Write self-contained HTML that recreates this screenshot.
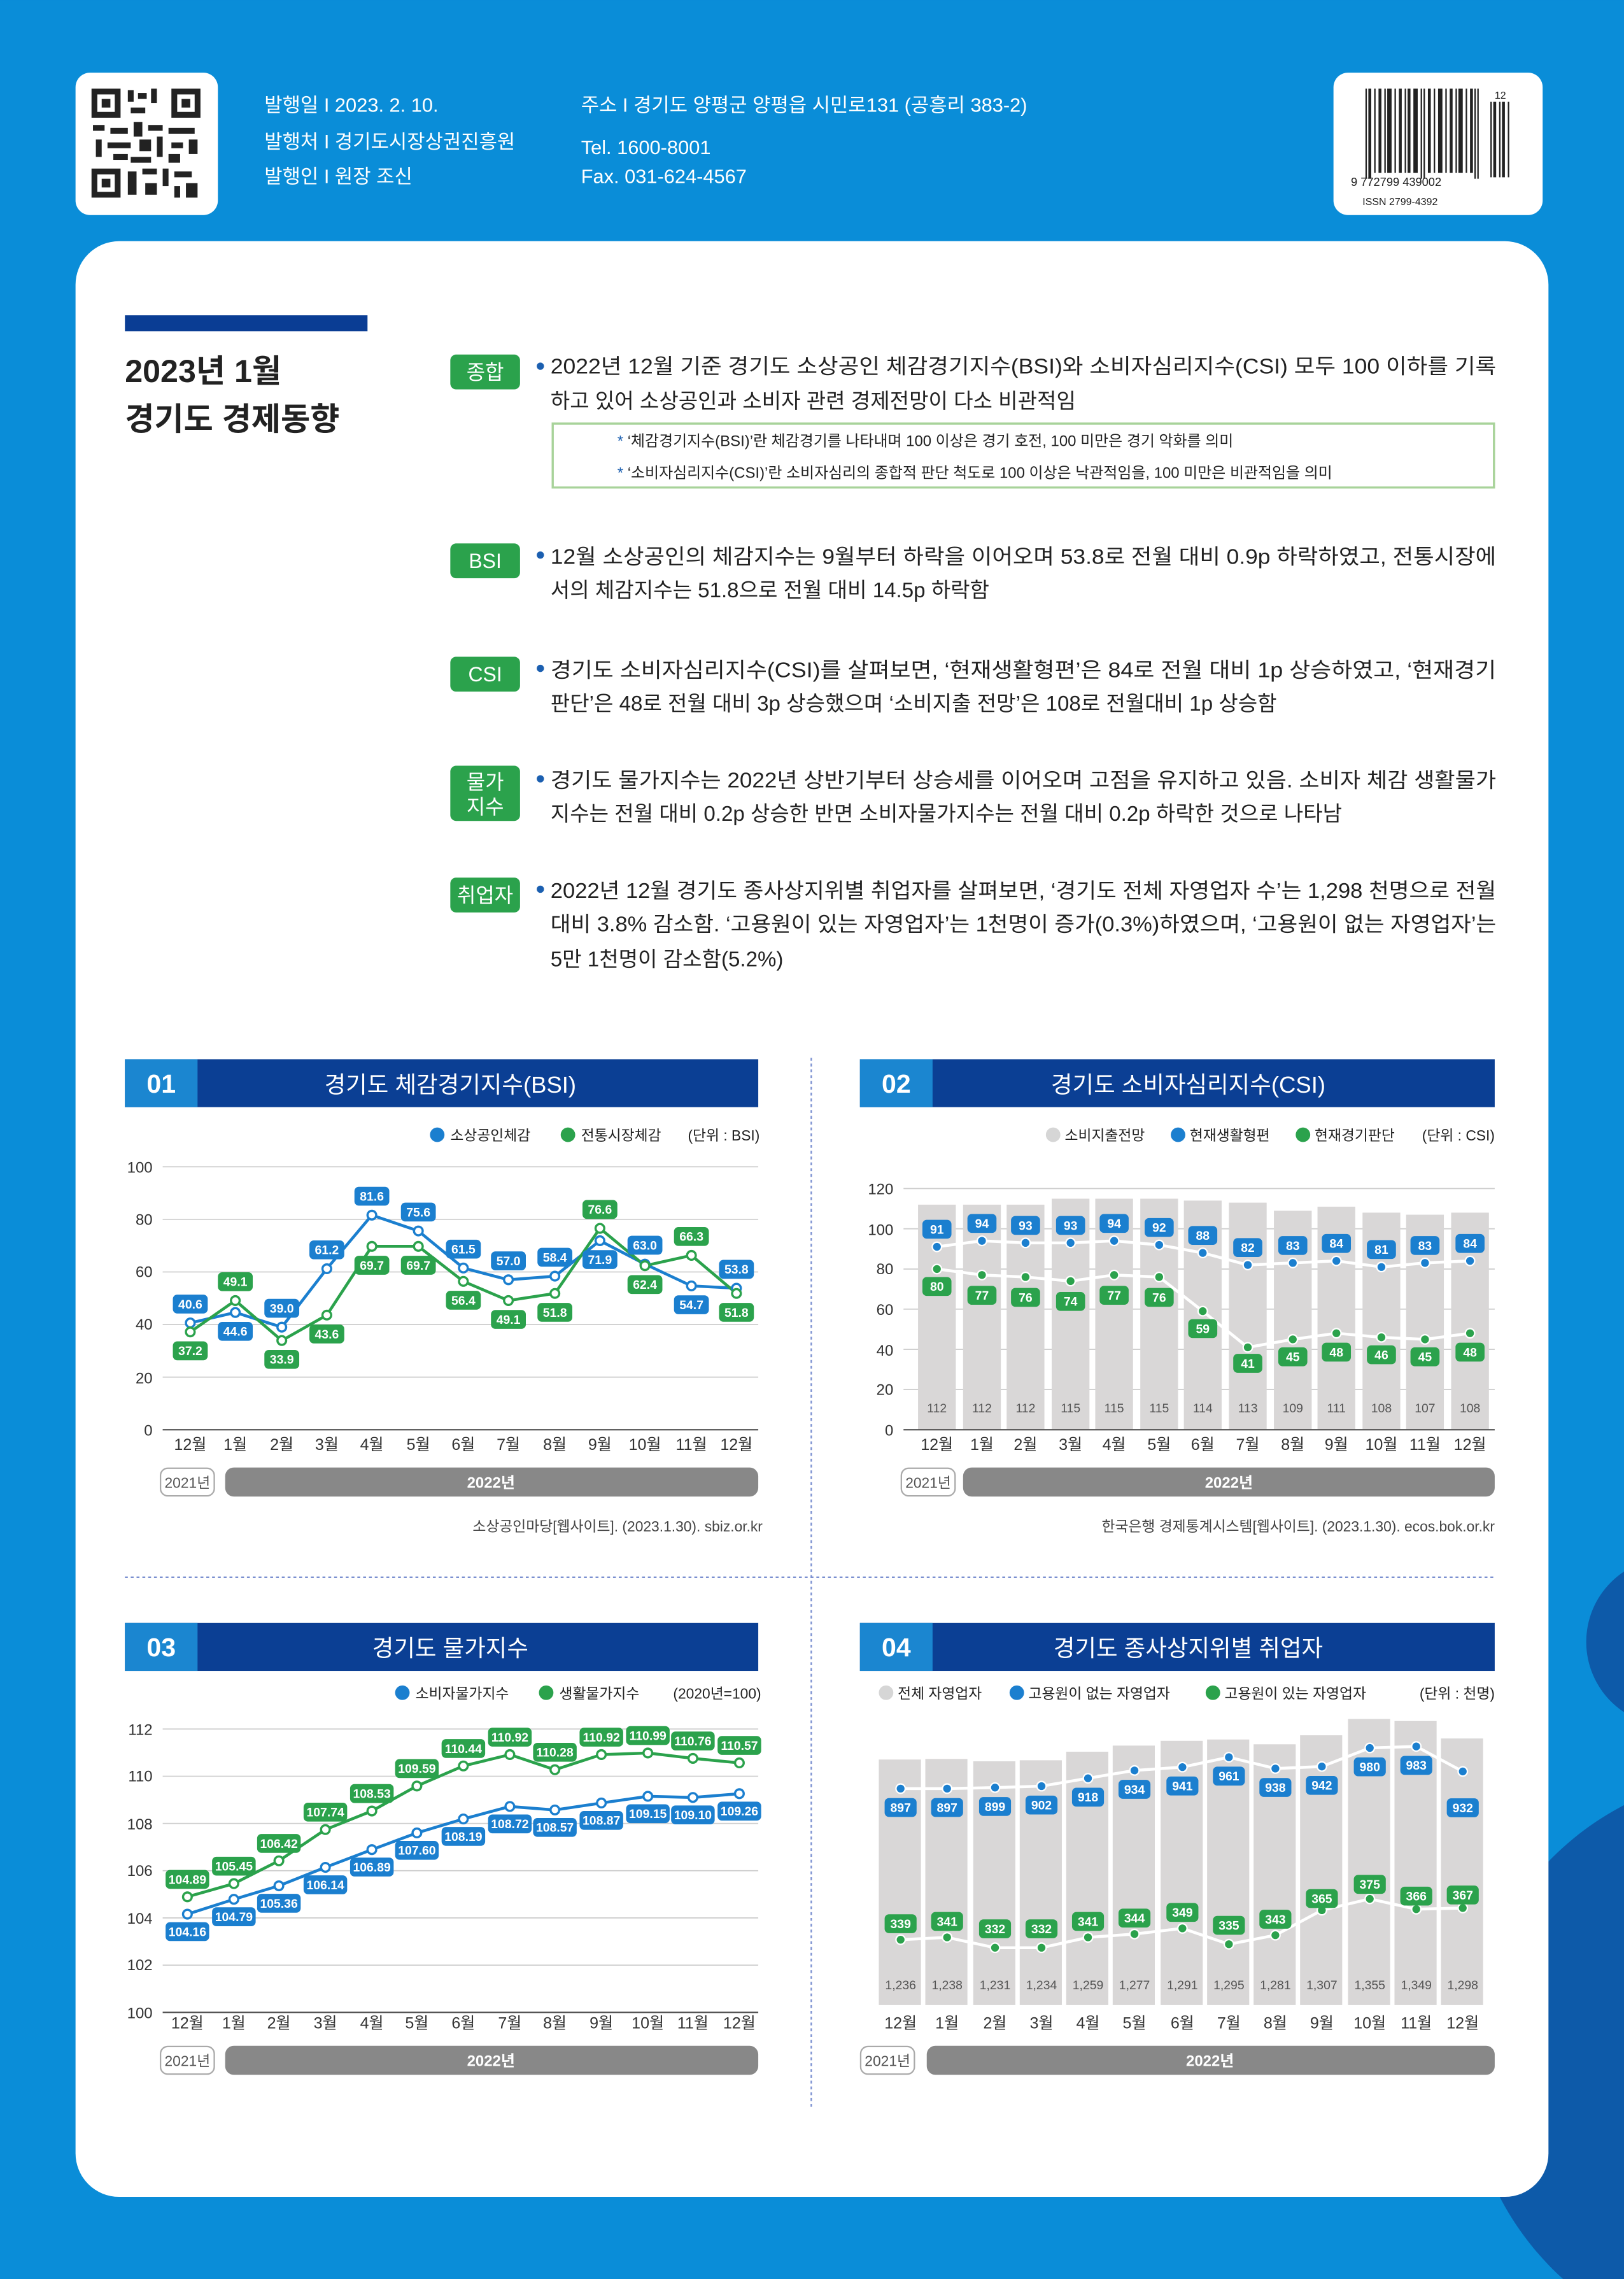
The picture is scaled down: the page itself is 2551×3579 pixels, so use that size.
<!DOCTYPE html>
<html><head><meta charset="utf-8">
<style>
html,body{margin:0;padding:0;background:#0a8dd8;}
svg{display:block;}
text{font-family:"Liberation Sans","Noto Sans CJK KR",sans-serif;}
.w{fill:#fff}
.k{fill:#222}
.lb rect{fill:#1b7fcf}
.lg rect{fill:#2ba24c}
.lb text,.lg text{fill:#fff;font-size:8.5px;font-weight:bold;text-anchor:middle}
.ax{font-size:10.5px;fill:#333;text-anchor:end}
.mo{font-size:11px;fill:#333;text-anchor:middle}
.leg{font-size:10px;fill:#222}
.grid{stroke:#cfcfcf;stroke-width:0.8}
.bl{font-size:8.5px;fill:#555;text-anchor:middle}
</style></head>
<body>
<svg width="2551" height="3579" viewBox="0 0 1118 1568.5" xmlns="http://www.w3.org/2000/svg">
<rect x="0" y="0" width="1118" height="1569" fill="#0a8dd8"/>
<circle cx="1150" cy="1130" r="58" fill="#0d5aa9"/>
<circle cx="1210" cy="1420" r="200" fill="#0d5aa9"/>
<!-- QR -->
<rect x="52" y="50" width="98" height="98" rx="10" fill="#fff"/>
<g fill="#222">
<rect x="63" y="61" width="20" height="20"/><rect x="67" y="65" width="12" height="12" fill="#fff"/><rect x="70" y="68" width="6" height="6"/>
<rect x="118" y="61" width="20" height="20"/><rect x="122" y="65" width="12" height="12" fill="#fff"/><rect x="125" y="68" width="6" height="6"/>
<rect x="63" y="116" width="20" height="20"/><rect x="67" y="120" width="12" height="12" fill="#fff"/><rect x="70" y="123" width="6" height="6"/>
<rect x="88" y="62" width="4" height="8"/><rect x="95" y="64" width="6" height="4"/><rect x="104" y="61" width="4" height="10"/><rect x="90" y="74" width="10" height="4"/>
<rect x="64" y="86" width="8" height="4"/><rect x="76" y="88" width="12" height="4"/><rect x="92" y="84" width="6" height="10"/><rect x="102" y="86" width="10" height="4"/><rect x="116" y="88" width="18" height="4"/>
<rect x="66" y="96" width="4" height="12"/><rect x="74" y="98" width="16" height="4"/><rect x="96" y="96" width="8" height="8"/><rect x="108" y="94" width="4" height="14"/><rect x="118" y="98" width="8" height="4"/><rect x="130" y="96" width="6" height="10"/>
<rect x="78" y="106" width="10" height="4"/><rect x="90" y="108" width="14" height="4"/><rect x="116" y="106" width="8" height="6"/>
<rect x="88" y="118" width="6" height="16"/><rect x="98" y="116" width="10" height="4"/><rect x="112" y="116" width="4" height="12"/><rect x="120" y="118" width="12" height="4"/><rect x="100" y="126" width="8" height="8"/><rect x="120" y="128" width="4" height="8"/><rect x="128" y="126" width="8" height="10"/>
</g>
<!-- header text -->
<g class="w" font-size="13.5">
<text x="182" y="77">발행일 I 2023. 2. 10.</text>
<text x="182" y="102">발행처 I 경기도시장상권진흥원</text>
<text x="182" y="126">발행인 I 원장 조신</text>
<text x="400" y="77">주소 I 경기도 양평군 양평읍 시민로131 (공흥리 383-2)</text>
<text x="400" y="106">Tel. 1600-8001</text>
<text x="400" y="126">Fax. 031-624-4567</text>
</g>
<!-- barcode -->
<rect x="918" y="50" width="144" height="98" rx="10" fill="#fff"/>
<g fill="#222">
<rect x="940" y="61" width="1" height="62"/><rect x="942" y="61" width="2" height="62"/><rect x="946" y="61" width="1" height="58"/><rect x="949" y="61" width="2" height="58"/><rect x="953" y="61" width="1" height="58"/><rect x="955" y="61" width="3" height="58"/><rect x="960" y="61" width="1" height="58"/><rect x="963" y="61" width="2" height="58"/><rect x="967" y="61" width="1" height="58"/><rect x="969" y="61" width="2" height="58"/><rect x="973" y="61" width="3" height="58"/><rect x="978" y="61" width="1" height="62"/><rect x="980" y="61" width="1" height="62"/><rect x="983" y="61" width="2" height="58"/><rect x="987" y="61" width="1" height="58"/><rect x="990" y="61" width="3" height="58"/><rect x="995" y="61" width="1" height="58"/><rect x="998" y="61" width="2" height="58"/><rect x="1002" y="61" width="1" height="58"/><rect x="1004" y="61" width="3" height="58"/><rect x="1009" y="61" width="1" height="58"/><rect x="1012" y="61" width="2" height="58"/><rect x="1015" y="61" width="1" height="62"/><rect x="1017" y="61" width="1" height="62"/>
<rect x="1026" y="70" width="1" height="52"/><rect x="1028" y="70" width="2" height="52"/><rect x="1032" y="70" width="1" height="52"/><rect x="1034" y="70" width="2" height="52"/><rect x="1038" y="70" width="1" height="52"/>
</g>
<text x="930" y="128" font-size="8" fill="#222">9 772799 439002</text>
<text x="1029" y="68" font-size="7" fill="#222">12</text>
<text x="938" y="141" font-size="7" fill="#222">ISSN 2799-4392</text>
<!-- main card -->
<rect x="52" y="166" width="1014" height="1346" rx="30" fill="#fff"/>
<rect x="86" y="217" width="167" height="11" fill="#0a3d94"/>
<text x="86" y="263" font-size="22" font-weight="bold" fill="#222">2023년 1월</text>
<text x="86" y="296" font-size="22" font-weight="bold" fill="#222">경기도 경제동향</text>
<!-- sections -->
<g font-size="14.5" fill="#222">
<rect x="310" y="244" width="48" height="24" rx="4" fill="#2ba24c"/><text x="334" y="261" text-anchor="middle" fill="#fff" font-size="14">종합</text>
<circle cx="372" cy="252" r="2.5" fill="#1b5fb0"/>
<text x="379" y="257" textLength="651" lengthAdjust="spacingAndGlyphs">2022년 12월 기준 경기도 소상공인 체감경기지수(BSI)와 소비자심리지수(CSI) 모두 100 이하를 기록</text>
<text x="379" y="281">하고 있어 소상공인과 소비자 관련 경제전망이 다소 비관적임</text>
<rect x="380.5" y="291.5" width="648" height="44" fill="none" stroke="#a8d39a" stroke-width="1.5"/>
<text x="425" y="307" font-size="10.5"><tspan fill="#1b5fb0">*</tspan> ‘체감경기지수(BSI)’란 체감경기를 나타내며 100 이상은 경기 호전, 100 미만은 경기 악화를 의미</text>
<text x="425" y="329" font-size="10.5"><tspan fill="#1b5fb0">*</tspan> ‘소비자심리지수(CSI)’란 소비자심리의 종합적 판단 척도로 100 이상은 낙관적임을, 100 미만은 비관적임을 의미</text>

<rect x="310" y="374" width="48" height="24" rx="4" fill="#2ba24c"/><text x="334" y="391" text-anchor="middle" fill="#fff" font-size="14">BSI</text>
<circle cx="372" cy="382" r="2.5" fill="#1b5fb0"/>
<text x="379" y="388" textLength="651" lengthAdjust="spacingAndGlyphs">12월 소상공인의 체감지수는 9월부터 하락을 이어오며 53.8로 전월 대비 0.9p 하락하였고, 전통시장에</text>
<text x="379" y="411">서의 체감지수는 51.8으로 전월 대비 14.5p 하락함</text>

<rect x="310" y="452" width="48" height="24" rx="4" fill="#2ba24c"/><text x="334" y="469" text-anchor="middle" fill="#fff" font-size="14">CSI</text>
<circle cx="372" cy="460" r="2.5" fill="#1b5fb0"/>
<text x="379" y="466" textLength="651" lengthAdjust="spacingAndGlyphs">경기도 소비자심리지수(CSI)를 살펴보면, ‘현재생활형편’은 84로 전월 대비 1p 상승하였고, ‘현재경기</text>
<text x="379" y="489">판단’은 48로 전월 대비 3p 상승했으며 ‘소비지출 전망’은 108로 전월대비 1p 상승함</text>

<rect x="310" y="527" width="48" height="38" rx="4" fill="#2ba24c"/><text x="334" y="543" text-anchor="middle" fill="#fff" font-size="14">물가</text><text x="334" y="560" text-anchor="middle" fill="#fff" font-size="14">지수</text>
<circle cx="372" cy="536" r="2.5" fill="#1b5fb0"/>
<text x="379" y="542" textLength="651" lengthAdjust="spacingAndGlyphs">경기도 물가지수는 2022년 상반기부터 상승세를 이어오며 고점을 유지하고 있음. 소비자 체감 생활물가</text>
<text x="379" y="565">지수는 전월 대비 0.2p 상승한 반면 소비자물가지수는 전월 대비 0.2p 하락한 것으로 나타남</text>

<rect x="310" y="604" width="48" height="24" rx="4" fill="#2ba24c"/><text x="334" y="621" text-anchor="middle" fill="#fff" font-size="14">취업자</text>
<circle cx="372" cy="612" r="2.5" fill="#1b5fb0"/>
<text x="379" y="618" textLength="651" lengthAdjust="spacingAndGlyphs">2022년 12월 경기도 종사상지위별 취업자를 살펴보면, ‘경기도 전체 자영업자 수’는 1,298 천명으로 전월</text>
<text x="379" y="641" textLength="651" lengthAdjust="spacingAndGlyphs">대비 3.8% 감소함. ‘고용원이 있는 자영업자’는 1천명이 증가(0.3%)하였으며, ‘고용원이 없는 자영업자’는</text>
<text x="379" y="665">5만 1천명이 감소함(5.2%)</text>
</g>
<!-- dividers -->
<line x1="558.5" y1="728" x2="558.5" y2="1450" stroke="#7a8fd0" stroke-width="1" stroke-dasharray="2,2"/>
<line x1="86" y1="1085.5" x2="1030" y2="1085.5" stroke="#7a8fd0" stroke-width="1" stroke-dasharray="2,2"/>

<!-- ===== CHART 1 ===== -->
<rect x="86" y="729" width="436" height="33" fill="#0b3f94"/><rect x="86" y="729" width="50" height="33" fill="#1b86d0"/>
<text x="111" y="752" font-size="18" font-weight="bold" fill="#fff" text-anchor="middle">01</text>
<text x="310" y="752" font-size="16" fill="#fff" text-anchor="middle">경기도 체감경기지수(BSI)</text>
<circle cx="301" cy="781" r="5" fill="#1b7fcf"/><text x="310" y="785" class="leg">소상공인체감</text>
<circle cx="391" cy="781" r="5" fill="#2ba24c"/><text x="400" y="785" class="leg">전통시장체감</text>
<text x="523" y="785" class="leg" text-anchor="end" font-size="9.5">(단위 : BSI)</text>
<g class="grid"><line x1="112" y1="803" x2="522" y2="803"/><line x1="112" y1="839.2" x2="522" y2="839.2"/><line x1="112" y1="875.4" x2="522" y2="875.4"/><line x1="112" y1="911.6" x2="522" y2="911.6"/><line x1="112" y1="947.8" x2="522" y2="947.8"/></g>
<line x1="112" y1="984" x2="522" y2="984" stroke="#555" stroke-width="1"/>
<g class="ax"><text x="105" y="807">100</text><text x="105" y="843">80</text><text x="105" y="879">60</text><text x="105" y="915">40</text><text x="105" y="952">20</text><text x="105" y="988">0</text></g>
<g class="mo"><text x="131" y="998">12월</text><text x="162" y="998">1월</text><text x="194" y="998">2월</text><text x="225" y="998">3월</text><text x="256" y="998">4월</text><text x="288" y="998">5월</text><text x="319" y="998">6월</text><text x="350" y="998">7월</text><text x="382" y="998">8월</text><text x="413" y="998">9월</text><text x="444" y="998">10월</text><text x="476" y="998">11월</text><text x="507" y="998">12월</text></g>
<rect x="110.5" y="1010.5" width="37" height="19" rx="5" fill="#fff" stroke="#aaa"/><text x="129" y="1024" font-size="10" fill="#555" text-anchor="middle">2021년</text>
<rect x="155" y="1010" width="367" height="20" rx="6" fill="#888"/><text x="338" y="1024" font-size="10.5" font-weight="bold" fill="#fff" text-anchor="middle">2022년</text>
<text x="525" y="1054" font-size="10" fill="#444" text-anchor="end">소상공인마당[웹사이트]. (2023.1.30). sbiz.or.kr</text>
<polyline fill="none" stroke="#1b7fcf" stroke-width="2" points="131,910.5 162,903.3 194,913.4 225,873.2 256,836.3 288,847.2 319,872.7 350,880.8 382,878.3 413,853.9 444,870 476,885 507,886.6"/>
<polyline fill="none" stroke="#2ba24c" stroke-width="2" points="131,916.7 162,895.1 194,922.6 225,905.1 256,857.8 288,857.8 319,881.9 350,895.1 382,890.2 413,845.4 444,871.1 476,864 507,890.2"/>
<g fill="#fff" stroke="#1b7fcf" stroke-width="1.5"><circle cx="131" cy="910.5" r="3"/><circle cx="162" cy="903.3" r="3"/><circle cx="194" cy="913.4" r="3"/><circle cx="225" cy="873.2" r="3"/><circle cx="256" cy="836.3" r="3"/><circle cx="288" cy="847.2" r="3"/><circle cx="319" cy="872.7" r="3"/><circle cx="350" cy="880.8" r="3"/><circle cx="382" cy="878.3" r="3"/><circle cx="413" cy="853.9" r="3"/><circle cx="444" cy="870" r="3"/><circle cx="476" cy="885" r="3"/><circle cx="507" cy="886.6" r="3"/></g>
<g fill="#fff" stroke="#2ba24c" stroke-width="1.5"><circle cx="131" cy="916.7" r="3"/><circle cx="162" cy="895.1" r="3"/><circle cx="194" cy="922.6" r="3"/><circle cx="225" cy="905.1" r="3"/><circle cx="256" cy="857.8" r="3"/><circle cx="288" cy="857.8" r="3"/><circle cx="319" cy="881.9" r="3"/><circle cx="350" cy="895.1" r="3"/><circle cx="382" cy="890.2" r="3"/><circle cx="413" cy="845.4" r="3"/><circle cx="444" cy="871.1" r="3"/><circle cx="476" cy="864" r="3"/><circle cx="507" cy="890.2" r="3"/></g>
<g class="lb">
<g transform="translate(131,897.5)"><rect x="-12" y="-6.5" width="24" height="13" rx="3"/><text y="3">40.6</text></g>
<g transform="translate(162,916.3)"><rect x="-12" y="-6.5" width="24" height="13" rx="3"/><text y="3">44.6</text></g>
<g transform="translate(194,900.4)"><rect x="-12" y="-6.5" width="24" height="13" rx="3"/><text y="3">39.0</text></g>
<g transform="translate(225,860.2)"><rect x="-12" y="-6.5" width="24" height="13" rx="3"/><text y="3">61.2</text></g>
<g transform="translate(256,823.3)"><rect x="-12" y="-6.5" width="24" height="13" rx="3"/><text y="3">81.6</text></g>
<g transform="translate(288,834.2)"><rect x="-12" y="-6.5" width="24" height="13" rx="3"/><text y="3">75.6</text></g>
<g transform="translate(319,859.7)"><rect x="-12" y="-6.5" width="24" height="13" rx="3"/><text y="3">61.5</text></g>
<g transform="translate(350,867.8)"><rect x="-12" y="-6.5" width="24" height="13" rx="3"/><text y="3">57.0</text></g>
<g transform="translate(382,865.3)"><rect x="-12" y="-6.5" width="24" height="13" rx="3"/><text y="3">58.4</text></g>
<g transform="translate(413,866.9)"><rect x="-12" y="-6.5" width="24" height="13" rx="3"/><text y="3">71.9</text></g>
<g transform="translate(444,857)"><rect x="-12" y="-6.5" width="24" height="13" rx="3"/><text y="3">63.0</text></g>
<g transform="translate(476,898)"><rect x="-12" y="-6.5" width="24" height="13" rx="3"/><text y="3">54.7</text></g>
<g transform="translate(507,873.6)"><rect x="-12" y="-6.5" width="24" height="13" rx="3"/><text y="3">53.8</text></g>
</g>
<g class="lg">
<g transform="translate(131,929.7)"><rect x="-12" y="-6.5" width="24" height="13" rx="3"/><text y="3">37.2</text></g>
<g transform="translate(162,882.1)"><rect x="-12" y="-6.5" width="24" height="13" rx="3"/><text y="3">49.1</text></g>
<g transform="translate(194,935.6)"><rect x="-12" y="-6.5" width="24" height="13" rx="3"/><text y="3">33.9</text></g>
<g transform="translate(225,918.1)"><rect x="-12" y="-6.5" width="24" height="13" rx="3"/><text y="3">43.6</text></g>
<g transform="translate(256,870.8)"><rect x="-12" y="-6.5" width="24" height="13" rx="3"/><text y="3">69.7</text></g>
<g transform="translate(288,870.8)"><rect x="-12" y="-6.5" width="24" height="13" rx="3"/><text y="3">69.7</text></g>
<g transform="translate(319,894.9)"><rect x="-12" y="-6.5" width="24" height="13" rx="3"/><text y="3">56.4</text></g>
<g transform="translate(350,908.1)"><rect x="-12" y="-6.5" width="24" height="13" rx="3"/><text y="3">49.1</text></g>
<g transform="translate(382,903.2)"><rect x="-12" y="-6.5" width="24" height="13" rx="3"/><text y="3">51.8</text></g>
<g transform="translate(413,832.4)"><rect x="-12" y="-6.5" width="24" height="13" rx="3"/><text y="3">76.6</text></g>
<g transform="translate(444,884.1)"><rect x="-12" y="-6.5" width="24" height="13" rx="3"/><text y="3">62.4</text></g>
<g transform="translate(476,851)"><rect x="-12" y="-6.5" width="24" height="13" rx="3"/><text y="3">66.3</text></g>
<g transform="translate(507,903.2)"><rect x="-12" y="-6.5" width="24" height="13" rx="3"/><text y="3">51.8</text></g>
</g>

<!-- ===== CHART 2 ===== -->
<rect x="592" y="729" width="437" height="33" fill="#0b3f94"/><rect x="592" y="729" width="50" height="33" fill="#1b86d0"/>
<text x="617" y="752" font-size="18" font-weight="bold" fill="#fff" text-anchor="middle">02</text>
<text x="818" y="752" font-size="16" fill="#fff" text-anchor="middle">경기도 소비자심리지수(CSI)</text>
<circle cx="725" cy="781" r="5" fill="#d6d6d6"/><text x="733" y="785" class="leg">소비지출전망</text>
<circle cx="811" cy="781" r="5" fill="#1b7fcf"/><text x="819" y="785" class="leg">현재생활형편</text>
<circle cx="897" cy="781" r="5" fill="#2ba24c"/><text x="905" y="785" class="leg">현재경기판단</text>
<text x="1029" y="785" class="leg" text-anchor="end" font-size="9.5">(단위 : CSI)</text>
<g class="grid"><line x1="622" y1="818" x2="1029" y2="818"/><line x1="622" y1="845.7" x2="1029" y2="845.7"/><line x1="622" y1="873.4" x2="1029" y2="873.4"/><line x1="622" y1="901" x2="1029" y2="901"/><line x1="622" y1="928.7" x2="1029" y2="928.7"/><line x1="622" y1="956.3" x2="1029" y2="956.3"/></g>
<g class="ax"><text x="615" y="822">120</text><text x="615" y="850">100</text><text x="615" y="877">80</text><text x="615" y="905">60</text><text x="615" y="933">40</text><text x="615" y="960">20</text><text x="615" y="988">0</text></g>
<g fill="#d9d7d7">
<rect x="632" y="829.1" width="26" height="154.9"/><rect x="663" y="829.1" width="26" height="154.9"/><rect x="693" y="829.1" width="26" height="154.9"/><rect x="724" y="825" width="26" height="159"/><rect x="754" y="825" width="26" height="159"/><rect x="785" y="825" width="26" height="159"/><rect x="815" y="826.3" width="26" height="157.7"/><rect x="846" y="827.7" width="26" height="156.3"/><rect x="877" y="833.3" width="26" height="150.7"/><rect x="907" y="830.5" width="26" height="153.5"/><rect x="938" y="834.6" width="26" height="149.4"/><rect x="968" y="836" width="26" height="148"/><rect x="999" y="834.6" width="26" height="149.4"/>
</g>
<line x1="622" y1="984" x2="1029" y2="984" stroke="#555" stroke-width="1"/>
<g class="bl"><text x="645" y="972">112</text><text x="676" y="972">112</text><text x="706" y="972">112</text><text x="737" y="972">115</text><text x="767" y="972">115</text><text x="798" y="972">115</text><text x="828" y="972">114</text><text x="859" y="972">113</text><text x="890" y="972">109</text><text x="920" y="972">111</text><text x="951" y="972">108</text><text x="981" y="972">107</text><text x="1012" y="972">108</text></g>
<g class="mo"><text x="645" y="998">12월</text><text x="676" y="998">1월</text><text x="706" y="998">2월</text><text x="737" y="998">3월</text><text x="767" y="998">4월</text><text x="798" y="998">5월</text><text x="828" y="998">6월</text><text x="859" y="998">7월</text><text x="890" y="998">8월</text><text x="920" y="998">9월</text><text x="951" y="998">10월</text><text x="981" y="998">11월</text><text x="1012" y="998">12월</text></g>
<rect x="620.5" y="1010.5" width="37" height="19" rx="5" fill="#fff" stroke="#aaa"/><text x="639" y="1024" font-size="10" fill="#555" text-anchor="middle">2021년</text>
<rect x="663" y="1010" width="366" height="20" rx="6" fill="#888"/><text x="846" y="1024" font-size="10.5" font-weight="bold" fill="#fff" text-anchor="middle">2022년</text>
<text x="1029" y="1054" font-size="10" fill="#444" text-anchor="end">한국은행 경제통계시스템[웹사이트]. (2023.1.30). ecos.bok.or.kr</text>
<polyline fill="none" stroke="#fff" stroke-width="2" points="645,858.1 676,854 706,855.4 737,855.4 767,854 798,856.8 828,862.3 859,870.6 890,869.2 920,867.8 951,872 981,869.2 1012,867.8"/>
<polyline fill="none" stroke="#fff" stroke-width="2" points="645,873.4 676,877.5 706,878.9 737,881.7 767,877.5 798,878.9 828,902.4 859,927.3 890,921.8 920,917.6 951,920.4 981,921.8 1012,917.6"/>
<g fill="#1b7fcf" stroke="#fff" stroke-width="1"><circle cx="645" cy="858.1" r="3.2"/><circle cx="676" cy="854" r="3.2"/><circle cx="706" cy="855.4" r="3.2"/><circle cx="737" cy="855.4" r="3.2"/><circle cx="767" cy="854" r="3.2"/><circle cx="798" cy="856.8" r="3.2"/><circle cx="828" cy="862.3" r="3.2"/><circle cx="859" cy="870.6" r="3.2"/><circle cx="890" cy="869.2" r="3.2"/><circle cx="920" cy="867.8" r="3.2"/><circle cx="951" cy="872" r="3.2"/><circle cx="981" cy="869.2" r="3.2"/><circle cx="1012" cy="867.8" r="3.2"/></g>
<g fill="#2ba24c" stroke="#fff" stroke-width="1"><circle cx="645" cy="873.4" r="3.2"/><circle cx="676" cy="877.5" r="3.2"/><circle cx="706" cy="878.9" r="3.2"/><circle cx="737" cy="881.7" r="3.2"/><circle cx="767" cy="877.5" r="3.2"/><circle cx="798" cy="878.9" r="3.2"/><circle cx="828" cy="902.4" r="3.2"/><circle cx="859" cy="927.3" r="3.2"/><circle cx="890" cy="921.8" r="3.2"/><circle cx="920" cy="917.6" r="3.2"/><circle cx="951" cy="920.4" r="3.2"/><circle cx="981" cy="921.8" r="3.2"/><circle cx="1012" cy="917.6" r="3.2"/></g>
<g class="lb">
<g transform="translate(645,846)"><rect x="-10" y="-6.5" width="20" height="13" rx="3"/><text y="3">91</text></g>
<g transform="translate(676,842)"><rect x="-10" y="-6.5" width="20" height="13" rx="3"/><text y="3">94</text></g>
<g transform="translate(706,843.4)"><rect x="-10" y="-6.5" width="20" height="13" rx="3"/><text y="3">93</text></g>
<g transform="translate(737,843.4)"><rect x="-10" y="-6.5" width="20" height="13" rx="3"/><text y="3">93</text></g>
<g transform="translate(767,842)"><rect x="-10" y="-6.5" width="20" height="13" rx="3"/><text y="3">94</text></g>
<g transform="translate(798,844.8)"><rect x="-10" y="-6.5" width="20" height="13" rx="3"/><text y="3">92</text></g>
<g transform="translate(828,850.3)"><rect x="-10" y="-6.5" width="20" height="13" rx="3"/><text y="3">88</text></g>
<g transform="translate(859,858.6)"><rect x="-10" y="-6.5" width="20" height="13" rx="3"/><text y="3">82</text></g>
<g transform="translate(890,857.2)"><rect x="-10" y="-6.5" width="20" height="13" rx="3"/><text y="3">83</text></g>
<g transform="translate(920,855.8)"><rect x="-10" y="-6.5" width="20" height="13" rx="3"/><text y="3">84</text></g>
<g transform="translate(951,860)"><rect x="-10" y="-6.5" width="20" height="13" rx="3"/><text y="3">81</text></g>
<g transform="translate(981,857.2)"><rect x="-10" y="-6.5" width="20" height="13" rx="3"/><text y="3">83</text></g>
<g transform="translate(1012,855.8)"><rect x="-10" y="-6.5" width="20" height="13" rx="3"/><text y="3">84</text></g>
</g>
<g class="lg">
<g transform="translate(645,885.4)"><rect x="-10" y="-6.5" width="20" height="13" rx="3"/><text y="3">80</text></g>
<g transform="translate(676,891.5)"><rect x="-10" y="-6.5" width="20" height="13" rx="3"/><text y="3">77</text></g>
<g transform="translate(706,892.9)"><rect x="-10" y="-6.5" width="20" height="13" rx="3"/><text y="3">76</text></g>
<g transform="translate(737,895.7)"><rect x="-10" y="-6.5" width="20" height="13" rx="3"/><text y="3">74</text></g>
<g transform="translate(767,891.5)"><rect x="-10" y="-6.5" width="20" height="13" rx="3"/><text y="3">77</text></g>
<g transform="translate(798,892.9)"><rect x="-10" y="-6.5" width="20" height="13" rx="3"/><text y="3">76</text></g>
<g transform="translate(828,914.4)"><rect x="-10" y="-6.5" width="20" height="13" rx="3"/><text y="3">59</text></g>
<g transform="translate(859,938.3)"><rect x="-10" y="-6.5" width="20" height="13" rx="3"/><text y="3">41</text></g>
<g transform="translate(890,933.8)"><rect x="-10" y="-6.5" width="20" height="13" rx="3"/><text y="3">45</text></g>
<g transform="translate(920,930.6)"><rect x="-10" y="-6.5" width="20" height="13" rx="3"/><text y="3">48</text></g>
<g transform="translate(951,932.4)"><rect x="-10" y="-6.5" width="20" height="13" rx="3"/><text y="3">46</text></g>
<g transform="translate(981,933.8)"><rect x="-10" y="-6.5" width="20" height="13" rx="3"/><text y="3">45</text></g>
<g transform="translate(1012,930.6)"><rect x="-10" y="-6.5" width="20" height="13" rx="3"/><text y="3">48</text></g>
</g>

<!-- ===== CHART 3 ===== -->
<rect x="86" y="1117" width="436" height="33" fill="#0b3f94"/><rect x="86" y="1117" width="50" height="33" fill="#1b86d0"/>
<text x="111" y="1140" font-size="18" font-weight="bold" fill="#fff" text-anchor="middle">03</text>
<text x="310" y="1140" font-size="16" fill="#fff" text-anchor="middle">경기도 물가지수</text>
<circle cx="277" cy="1165" r="5" fill="#1b7fcf"/><text x="286" y="1169" class="leg">소비자물가지수</text>
<circle cx="376" cy="1165" r="5" fill="#2ba24c"/><text x="385" y="1169" class="leg">생활물가지수</text>
<text x="524" y="1169" class="leg" text-anchor="end" font-size="9.5">(2020년=100)</text>
<g class="grid"><line x1="112" y1="1190" x2="522" y2="1190"/><line x1="112" y1="1222.5" x2="522" y2="1222.5"/><line x1="112" y1="1255" x2="522" y2="1255"/><line x1="112" y1="1287.5" x2="522" y2="1287.5"/><line x1="112" y1="1320" x2="522" y2="1320"/><line x1="112" y1="1352.5" x2="522" y2="1352.5"/></g>
<line x1="112" y1="1385" x2="522" y2="1385" stroke="#555" stroke-width="1"/>
<g class="ax"><text x="105" y="1194">112</text><text x="105" y="1226">110</text><text x="105" y="1259">108</text><text x="105" y="1291">106</text><text x="105" y="1324">104</text><text x="105" y="1356">102</text><text x="105" y="1389">100</text></g>
<g class="mo"><text x="129" y="1396">12월</text><text x="161" y="1396">1월</text><text x="192" y="1396">2월</text><text x="224" y="1396">3월</text><text x="256" y="1396">4월</text><text x="287" y="1396">5월</text><text x="319" y="1396">6월</text><text x="351" y="1396">7월</text><text x="382" y="1396">8월</text><text x="414" y="1396">9월</text><text x="446" y="1396">10월</text><text x="477" y="1396">11월</text><text x="509" y="1396">12월</text></g>
<rect x="110.5" y="1408.5" width="37" height="19" rx="5" fill="#fff" stroke="#aaa"/><text x="129" y="1422" font-size="10" fill="#555" text-anchor="middle">2021년</text>
<rect x="155" y="1408" width="367" height="20" rx="6" fill="#888"/><text x="338" y="1422" font-size="10.5" font-weight="bold" fill="#fff" text-anchor="middle">2022년</text>
<polyline fill="none" stroke="#1b7fcf" stroke-width="2" points="129,1317.4 161,1307.2 192,1297.9 224,1285.2 256,1273 287,1261.5 319,1251.9 351,1243.3 382,1245.7 414,1240.9 446,1236.3 477,1237.1 509,1234.5"/>
<polyline fill="none" stroke="#2ba24c" stroke-width="2" points="129,1305.5 161,1296.4 192,1280.7 224,1259.2 256,1246.4 287,1229.2 319,1215.4 351,1207.6 382,1218 414,1207.6 446,1206.5 477,1210.2 509,1213.3"/>
<g fill="#fff" stroke="#1b7fcf" stroke-width="1.5"><circle cx="129" cy="1317.4" r="3"/><circle cx="161" cy="1307.2" r="3"/><circle cx="192" cy="1297.9" r="3"/><circle cx="224" cy="1285.2" r="3"/><circle cx="256" cy="1273" r="3"/><circle cx="287" cy="1261.5" r="3"/><circle cx="319" cy="1251.9" r="3"/><circle cx="351" cy="1243.3" r="3"/><circle cx="382" cy="1245.7" r="3"/><circle cx="414" cy="1240.9" r="3"/><circle cx="446" cy="1236.3" r="3"/><circle cx="477" cy="1237.1" r="3"/><circle cx="509" cy="1234.5" r="3"/></g>
<g fill="#fff" stroke="#2ba24c" stroke-width="1.5"><circle cx="129" cy="1305.5" r="3"/><circle cx="161" cy="1296.4" r="3"/><circle cx="192" cy="1280.7" r="3"/><circle cx="224" cy="1259.2" r="3"/><circle cx="256" cy="1246.4" r="3"/><circle cx="287" cy="1229.2" r="3"/><circle cx="319" cy="1215.4" r="3"/><circle cx="351" cy="1207.6" r="3"/><circle cx="382" cy="1218" r="3"/><circle cx="414" cy="1207.6" r="3"/><circle cx="446" cy="1206.5" r="3"/><circle cx="477" cy="1210.2" r="3"/><circle cx="509" cy="1213.3" r="3"/></g>
<g class="lb">
<g transform="translate(129,1329.4)"><rect x="-15" y="-6.5" width="30" height="13" rx="3"/><text y="3">104.16</text></g>
<g transform="translate(161,1319.2)"><rect x="-15" y="-6.5" width="30" height="13" rx="3"/><text y="3">104.79</text></g>
<g transform="translate(192,1309.9)"><rect x="-15" y="-6.5" width="30" height="13" rx="3"/><text y="3">105.36</text></g>
<g transform="translate(224,1297.2)"><rect x="-15" y="-6.5" width="30" height="13" rx="3"/><text y="3">106.14</text></g>
<g transform="translate(256,1285)"><rect x="-15" y="-6.5" width="30" height="13" rx="3"/><text y="3">106.89</text></g>
<g transform="translate(287,1273.5)"><rect x="-15" y="-6.5" width="30" height="13" rx="3"/><text y="3">107.60</text></g>
<g transform="translate(319,1263.9)"><rect x="-15" y="-6.5" width="30" height="13" rx="3"/><text y="3">108.19</text></g>
<g transform="translate(351,1255.3)"><rect x="-15" y="-6.5" width="30" height="13" rx="3"/><text y="3">108.72</text></g>
<g transform="translate(382,1257.7)"><rect x="-15" y="-6.5" width="30" height="13" rx="3"/><text y="3">108.57</text></g>
<g transform="translate(414,1252.9)"><rect x="-15" y="-6.5" width="30" height="13" rx="3"/><text y="3">108.87</text></g>
<g transform="translate(446,1248.3)"><rect x="-15" y="-6.5" width="30" height="13" rx="3"/><text y="3">109.15</text></g>
<g transform="translate(477,1249.1)"><rect x="-15" y="-6.5" width="30" height="13" rx="3"/><text y="3">109.10</text></g>
<g transform="translate(509,1246.5)"><rect x="-15" y="-6.5" width="30" height="13" rx="3"/><text y="3">109.26</text></g>
</g>
<g class="lg">
<g transform="translate(129,1293.5)"><rect x="-15" y="-6.5" width="30" height="13" rx="3"/><text y="3">104.89</text></g>
<g transform="translate(161,1284.4)"><rect x="-15" y="-6.5" width="30" height="13" rx="3"/><text y="3">105.45</text></g>
<g transform="translate(192,1268.7)"><rect x="-15" y="-6.5" width="30" height="13" rx="3"/><text y="3">106.42</text></g>
<g transform="translate(224,1247.2)"><rect x="-15" y="-6.5" width="30" height="13" rx="3"/><text y="3">107.74</text></g>
<g transform="translate(256,1234.4)"><rect x="-15" y="-6.5" width="30" height="13" rx="3"/><text y="3">108.53</text></g>
<g transform="translate(287,1217.2)"><rect x="-15" y="-6.5" width="30" height="13" rx="3"/><text y="3">109.59</text></g>
<g transform="translate(319,1203.4)"><rect x="-15" y="-6.5" width="30" height="13" rx="3"/><text y="3">110.44</text></g>
<g transform="translate(351,1195.6)"><rect x="-15" y="-6.5" width="30" height="13" rx="3"/><text y="3">110.92</text></g>
<g transform="translate(382,1206)"><rect x="-15" y="-6.5" width="30" height="13" rx="3"/><text y="3">110.28</text></g>
<g transform="translate(414,1195.6)"><rect x="-15" y="-6.5" width="30" height="13" rx="3"/><text y="3">110.92</text></g>
<g transform="translate(446,1194.5)"><rect x="-15" y="-6.5" width="30" height="13" rx="3"/><text y="3">110.99</text></g>
<g transform="translate(477,1198.2)"><rect x="-15" y="-6.5" width="30" height="13" rx="3"/><text y="3">110.76</text></g>
<g transform="translate(509,1201.3)"><rect x="-15" y="-6.5" width="30" height="13" rx="3"/><text y="3">110.57</text></g>
</g>

<!-- ===== CHART 4 ===== -->
<rect x="592" y="1117" width="437" height="33" fill="#0b3f94"/><rect x="592" y="1117" width="50" height="33" fill="#1b86d0"/>
<text x="617" y="1140" font-size="18" font-weight="bold" fill="#fff" text-anchor="middle">04</text>
<text x="818" y="1140" font-size="16" fill="#fff" text-anchor="middle">경기도 종사상지위별 취업자</text>
<circle cx="610" cy="1165" r="5" fill="#d6d6d6"/><text x="618" y="1169" class="leg">전체 자영업자</text>
<circle cx="700" cy="1165" r="5" fill="#1b7fcf"/><text x="708" y="1169" class="leg">고용원이 없는 자영업자</text>
<circle cx="835" cy="1165" r="5" fill="#2ba24c"/><text x="843" y="1169" class="leg">고용원이 있는 자영업자</text>
<text x="1029" y="1169" class="leg" text-anchor="end" font-size="9.5">(단위 : 천명)</text>
<g fill="#d9d7d7">
<rect x="605" y="1211" width="29" height="169"/><rect x="637" y="1210.6" width="29" height="169.4"/><rect x="670" y="1212.2" width="29" height="167.8"/><rect x="702" y="1211.5" width="29" height="168.5"/><rect x="734" y="1205.6" width="29" height="174.4"/><rect x="766" y="1201.4" width="29" height="178.6"/><rect x="799" y="1198.1" width="29" height="181.9"/><rect x="831" y="1197.2" width="29" height="182.8"/><rect x="863" y="1200.5" width="29" height="179.5"/><rect x="895" y="1194.3" width="29" height="185.7"/><rect x="928" y="1183.1" width="29" height="196.9"/><rect x="960" y="1184.5" width="29" height="195.5"/><rect x="992" y="1196.5" width="29" height="183.5"/>
</g>
<g class="bl"><text x="620" y="1369">1,236</text><text x="652" y="1369">1,238</text><text x="685" y="1369">1,231</text><text x="717" y="1369">1,234</text><text x="749" y="1369">1,259</text><text x="781" y="1369">1,277</text><text x="814" y="1369">1,291</text><text x="846" y="1369">1,295</text><text x="878" y="1369">1,281</text><text x="910" y="1369">1,307</text><text x="943" y="1369">1,355</text><text x="975" y="1369">1,349</text><text x="1007" y="1369">1,298</text></g>
<g class="mo"><text x="620" y="1396">12월</text><text x="652" y="1396">1월</text><text x="685" y="1396">2월</text><text x="717" y="1396">3월</text><text x="749" y="1396">4월</text><text x="781" y="1396">5월</text><text x="814" y="1396">6월</text><text x="846" y="1396">7월</text><text x="878" y="1396">8월</text><text x="910" y="1396">9월</text><text x="943" y="1396">10월</text><text x="975" y="1396">11월</text><text x="1007" y="1396">12월</text></g>
<rect x="592.5" y="1408.5" width="37" height="19" rx="5" fill="#fff" stroke="#aaa"/><text x="611" y="1422" font-size="10" fill="#555" text-anchor="middle">2021년</text>
<rect x="638" y="1408" width="391" height="20" rx="6" fill="#888"/><text x="833" y="1422" font-size="10.5" font-weight="bold" fill="#fff" text-anchor="middle">2022년</text>
<polyline fill="none" stroke="#fff" stroke-width="2" points="620,1231 652,1231 685,1230.3 717,1229.3 749,1223.9 781,1218.5 814,1216.2 846,1209.4 878,1217.2 910,1215.8 943,1203 975,1202 1007,1219.2"/>
<polyline fill="none" stroke="#fff" stroke-width="2" points="620,1335 652,1333.4 685,1340.5 717,1340.5 749,1333.4 781,1331.1 814,1327.2 846,1338.1 878,1331.9 910,1314.7 943,1306.9 975,1314 1007,1313.2"/>
<g fill="#1b7fcf" stroke="#fff" stroke-width="1"><circle cx="620" cy="1231" r="3.2"/><circle cx="652" cy="1231" r="3.2"/><circle cx="685" cy="1230.3" r="3.2"/><circle cx="717" cy="1229.3" r="3.2"/><circle cx="749" cy="1223.9" r="3.2"/><circle cx="781" cy="1218.5" r="3.2"/><circle cx="814" cy="1216.2" r="3.2"/><circle cx="846" cy="1209.4" r="3.2"/><circle cx="878" cy="1217.2" r="3.2"/><circle cx="910" cy="1215.8" r="3.2"/><circle cx="943" cy="1203" r="3.2"/><circle cx="975" cy="1202" r="3.2"/><circle cx="1007" cy="1219.2" r="3.2"/></g>
<g fill="#2ba24c" stroke="#fff" stroke-width="1"><circle cx="620" cy="1335" r="3.2"/><circle cx="652" cy="1333.4" r="3.2"/><circle cx="685" cy="1340.5" r="3.2"/><circle cx="717" cy="1340.5" r="3.2"/><circle cx="749" cy="1333.4" r="3.2"/><circle cx="781" cy="1331.1" r="3.2"/><circle cx="814" cy="1327.2" r="3.2"/><circle cx="846" cy="1338.1" r="3.2"/><circle cx="878" cy="1331.9" r="3.2"/><circle cx="910" cy="1314.7" r="3.2"/><circle cx="943" cy="1306.9" r="3.2"/><circle cx="975" cy="1314" r="3.2"/><circle cx="1007" cy="1313.2" r="3.2"/></g>
<g class="lb">
<g transform="translate(620,1244)"><rect x="-11" y="-6.5" width="22" height="13" rx="3"/><text y="3">897</text></g>
<g transform="translate(652,1244)"><rect x="-11" y="-6.5" width="22" height="13" rx="3"/><text y="3">897</text></g>
<g transform="translate(685,1243.3)"><rect x="-11" y="-6.5" width="22" height="13" rx="3"/><text y="3">899</text></g>
<g transform="translate(717,1242.3)"><rect x="-11" y="-6.5" width="22" height="13" rx="3"/><text y="3">902</text></g>
<g transform="translate(749,1236.9)"><rect x="-11" y="-6.5" width="22" height="13" rx="3"/><text y="3">918</text></g>
<g transform="translate(781,1231.5)"><rect x="-11" y="-6.5" width="22" height="13" rx="3"/><text y="3">934</text></g>
<g transform="translate(814,1229.2)"><rect x="-11" y="-6.5" width="22" height="13" rx="3"/><text y="3">941</text></g>
<g transform="translate(846,1222.4)"><rect x="-11" y="-6.5" width="22" height="13" rx="3"/><text y="3">961</text></g>
<g transform="translate(878,1230.2)"><rect x="-11" y="-6.5" width="22" height="13" rx="3"/><text y="3">938</text></g>
<g transform="translate(910,1228.8)"><rect x="-11" y="-6.5" width="22" height="13" rx="3"/><text y="3">942</text></g>
<g transform="translate(943,1216)"><rect x="-11" y="-6.5" width="22" height="13" rx="3"/><text y="3">980</text></g>
<g transform="translate(975,1215)"><rect x="-11" y="-6.5" width="22" height="13" rx="3"/><text y="3">983</text></g>
<g transform="translate(1007,1244.2)"><rect x="-11" y="-6.5" width="22" height="13" rx="3"/><text y="3">932</text></g>
</g>
<g class="lg">
<g transform="translate(620,1324)"><rect x="-11" y="-6.5" width="22" height="13" rx="3"/><text y="3">339</text></g>
<g transform="translate(652,1322.4)"><rect x="-11" y="-6.5" width="22" height="13" rx="3"/><text y="3">341</text></g>
<g transform="translate(685,1327.5)"><rect x="-11" y="-6.5" width="22" height="13" rx="3"/><text y="3">332</text></g>
<g transform="translate(717,1327.5)"><rect x="-11" y="-6.5" width="22" height="13" rx="3"/><text y="3">332</text></g>
<g transform="translate(749,1322.4)"><rect x="-11" y="-6.5" width="22" height="13" rx="3"/><text y="3">341</text></g>
<g transform="translate(781,1320.1)"><rect x="-11" y="-6.5" width="22" height="13" rx="3"/><text y="3">344</text></g>
<g transform="translate(814,1316.2)"><rect x="-11" y="-6.5" width="22" height="13" rx="3"/><text y="3">349</text></g>
<g transform="translate(846,1325.1)"><rect x="-11" y="-6.5" width="22" height="13" rx="3"/><text y="3">335</text></g>
<g transform="translate(878,1320.9)"><rect x="-11" y="-6.5" width="22" height="13" rx="3"/><text y="3">343</text></g>
<g transform="translate(910,1306.7)"><rect x="-11" y="-6.5" width="22" height="13" rx="3"/><text y="3">365</text></g>
<g transform="translate(943,1296.9)"><rect x="-11" y="-6.5" width="22" height="13" rx="3"/><text y="3">375</text></g>
<g transform="translate(975,1305)"><rect x="-11" y="-6.5" width="22" height="13" rx="3"/><text y="3">366</text></g>
<g transform="translate(1007,1304.2)"><rect x="-11" y="-6.5" width="22" height="13" rx="3"/><text y="3">367</text></g>
</g>
</svg>
</body></html>
